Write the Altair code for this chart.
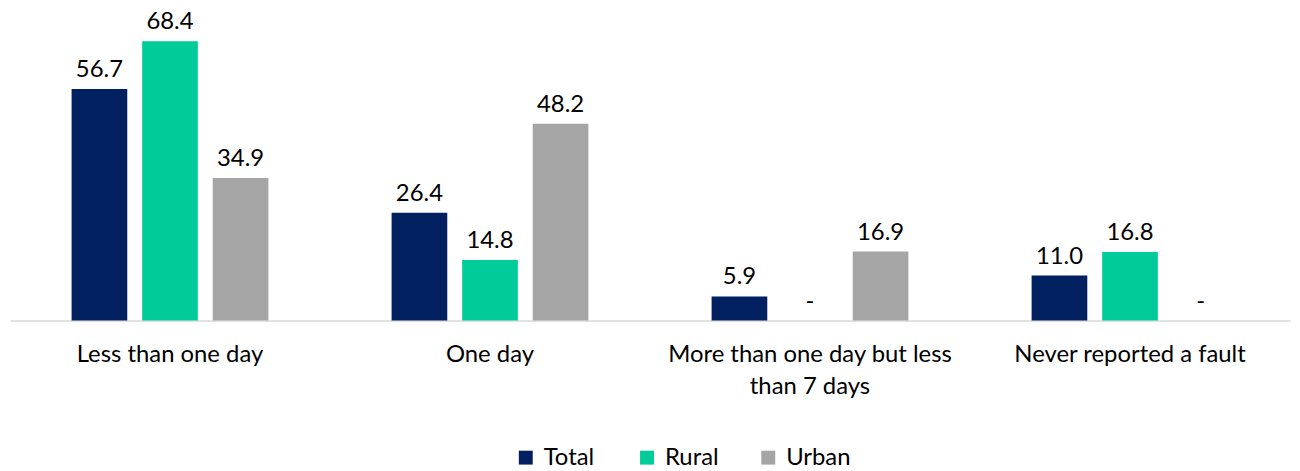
import altair as alt
import pandas as pd

categories = ["Less than one day", "One day", "More than one day but less than 7 days", "Never reported a fault"]
series = ["Total", "Rural", "Urban"]
total = [56.7, 26.4, 5.9, 11.0]
rural = [68.4, 14.8, None, 16.8]
urban = [34.9, 48.2, 16.9, None]
colors = ["#002060", "#00CC99", "#A5A5A5"]

rows = []
for s, vals in zip(series, [total, rural, urban]):
    for c, v in zip(categories, vals):
        rows.append({
            "category": c,
            "series": s,
            "value": v if v is not None else 0,
            "label": f"{v:.1f}" if v is not None else "-",
        })
df = pd.DataFrame(rows)

FONT = "Lato"
FS = 24

x = alt.X("category:N", sort=categories, title=None,
          scale=alt.Scale(paddingInner=0, paddingOuter=0),
          axis=alt.Axis(labelAngle=0, ticks=False, domainColor="#D9D9D9", domainWidth=1.5,
                        labelFontSize=FS, labelFont=FONT, labelColor="#000000",
                        labelPadding=22, labelLineHeight=32, labelLimit=400,
                        labelExpr="datum.value == 'More than one day but less than 7 days' ? ['More than one day but less', 'than 7 days'] : datum.value"))
xo = alt.XOffset("series:N", sort=series,
                 scale=alt.Scale(paddingInner=0.211, paddingOuter=0.873))
y = alt.Y("value:Q", scale=alt.Scale(domain=[0, 75.7]), axis=None)
color = alt.Color("series:N", sort=series,
                  scale=alt.Scale(domain=series, range=colors),
                  legend=alt.Legend(title=None, orient="none", direction="horizontal",
                                    legendX=507, legendY=437, symbolType="square",
                                    symbolSize=196, symbolStrokeWidth=0, labelFontSize=FS,
                                    labelFont=FONT, labelColor="#000000", columnPadding=27,
                                    gridAlign="all",
                                    symbolOffset=0, labelOffset=6, padding=0))

bars = alt.Chart(df).mark_bar(stroke=None).encode(x=x, xOffset=xo, y=y, color=color)
text = alt.Chart(df).mark_text(baseline="alphabetic", dy=-12, fontSize=FS, font=FONT, color="#000000").encode(
    x=x, xOffset=xo, y=y, text="label:N")

chart = (bars + text).properties(
    width=1288, height=311,
    padding={"left": 2, "top": 0, "right": 2, "bottom": 0},
).configure_view(stroke=None).configure_axis(grid=False)

chart.save("out.html", embed_options={"renderer": "svg", "actions": False})
